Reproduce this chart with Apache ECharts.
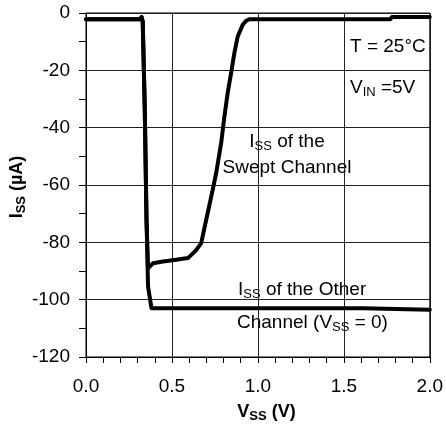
<!DOCTYPE html>
<html>
<head>
<meta charset="utf-8">
<script src="https://cdn.jsdelivr.net/npm/echarts@6/dist/echarts.min.js"></script>
<style>
  html, body { margin: 0; padding: 0; background: #fff; }
  #chart { width: 446px; height: 430px; }
</style>
</head>
<body>
<div id="chart"></div>
<script>
// Supply current I_SS (µA) versus swept supply voltage V_SS (V)
const sweptV = [0.00, 0.20, 0.315, 0.323, 0.330, 0.342, 0.352, 0.361, 0.390, 0.448, 0.525, 0.593,
                0.641, 0.670, 0.699, 0.737, 0.757, 0.786, 0.805, 0.824, 0.844, 0.863, 0.882,
                0.911, 0.930, 0.950, 1.20, 1.50, 1.770, 1.780, 2.00];
const sweptI = [-2.2, -2.2, -2.2, -1.4, -3.0, -33.8, -72.2, -89.0, -87.3, -86.7, -86.1, -85.5,
                -82.7, -80.3, -72.2, -61.7, -55.9, -45.5, -36.2, -28.0, -21.0, -14.0, -8.3,
                -4.2, -2.8, -2.2, -2.2, -2.2, -2.2, -1.4, -1.4];

const otherV = [0.00, 0.20, 0.315, 0.323, 0.330, 0.342, 0.352, 0.361, 0.381, 0.60, 1.00, 1.610, 1.620, 2.00];
const otherI = [-2.2, -2.2, -2.2, -1.4, -3.0, -33.8, -72.2, -95.5, -103.0, -103.0, -103.0, -103.0, -103.5, -103.5];

const xTicks = { min: 0, max: 2, step: 0.5 };
const yTicks = { min: -120, max: 0, step: 20 };

const FONT = '"Liberation Sans", Arial, sans-serif';

function pairs(xs, ys) { return xs.map((x, i) => [x, ys[i]]); }

const chart = echarts.init(document.getElementById('chart'), null, { renderer: 'canvas' });

const subRich = {
  n: { fontSize: 19, fontFamily: FONT, color: '#000', lineHeight: 22 },
  s: { fontSize: 13, fontFamily: FONT, color: '#000', lineHeight: 12, verticalAlign: 'bottom' }
};
const boldRich = {
  n: { fontSize: 18, fontFamily: FONT, fontWeight: 'bold', color: '#000', lineHeight: 22 },
  s: { fontSize: 13, fontFamily: FONT, fontWeight: 'bold', color: '#000', lineHeight: 12, verticalAlign: 'bottom' }
};

function note(x, y, text, rich, align, extra) {
  return Object.assign({
    type: 'text', x: x, y: y,
    style: { text: text, rich: rich, align: align, verticalAlign: 'middle' }
  }, extra || {});
}

const lineStyle = { color: '#000', width: 4, join: 'round', cap: 'round' };

chart.setOption({
  backgroundColor: '#fff',
  animation: false,
  grid: {
    left: 86, right: 15, top: 13, bottom: 73,
    show: true, borderColor: '#000', borderWidth: 1, backgroundColor: 'transparent'
  },
  xAxis: {
    type: 'value', min: xTicks.min, max: xTicks.max, interval: xTicks.step,
    axisLine: { onZero: false, lineStyle: { color: '#000', width: 1 } },
    axisTick: { show: true, length: 6, lineStyle: { color: '#000' } },
    minorTick: { show: true, splitNumber: 5, length: 6, lineStyle: { color: '#000' } },
    splitLine: { show: true, lineStyle: { color: '#222', width: 1 } },
    axisLabel: { color: '#000', fontSize: 19, fontFamily: FONT, margin: 20,
                 formatter: v => v.toFixed(1) }
  },
  yAxis: {
    type: 'value', min: yTicks.min, max: yTicks.max, interval: yTicks.step,
    axisLine: { onZero: false, lineStyle: { color: '#000', width: 1 } },
    axisTick: { show: true, length: 7, lineStyle: { color: '#000' } },
    minorTick: { show: true, splitNumber: 2, length: 7, lineStyle: { color: '#000' } },
    splitLine: { show: true, lineStyle: { color: '#222', width: 1 } },
    axisLabel: { color: '#000', fontSize: 19, fontFamily: FONT, margin: 16 }
  },
  series: [
    {
      name: 'Other Channel', type: 'line', data: pairs(otherV, otherI),
      showSymbol: false, symbol: 'none', lineStyle: lineStyle, z: 3
    },
    {
      name: 'Swept Channel', type: 'line', data: pairs(sweptV, sweptI),
      showSymbol: false, symbol: 'none', lineStyle: lineStyle, z: 4
    }
  ],
  graphic: [
    note(350, 47, '{n|T = 25°C}', subRich, 'left'),
    note(350, 88, '{n|V}{s|IN}{n| =5V}', subRich, 'left'),
    note(287, 142, '{n|I}{s|SS}{n| of the}', subRich, 'center'),
    note(287, 168, '{n|Swept Channel}', subRich, 'center'),
    note(238, 290, '{n|I}{s|SS}{n| of the Other}', subRich, 'left'),
    note(237, 323, '{n|Channel (V}{s|SS}{n| = 0)}', subRich, 'left'),
    note(266.5, 412, '{n|V}{s|SS}{n| (V)}', boldRich, 'center'),
    note(17, 187, '{n|I}{s|SS}{n| (µA)}', boldRich, 'center', { rotation: Math.PI / 2 })
  ]
});
</script>
</body>
</html>
